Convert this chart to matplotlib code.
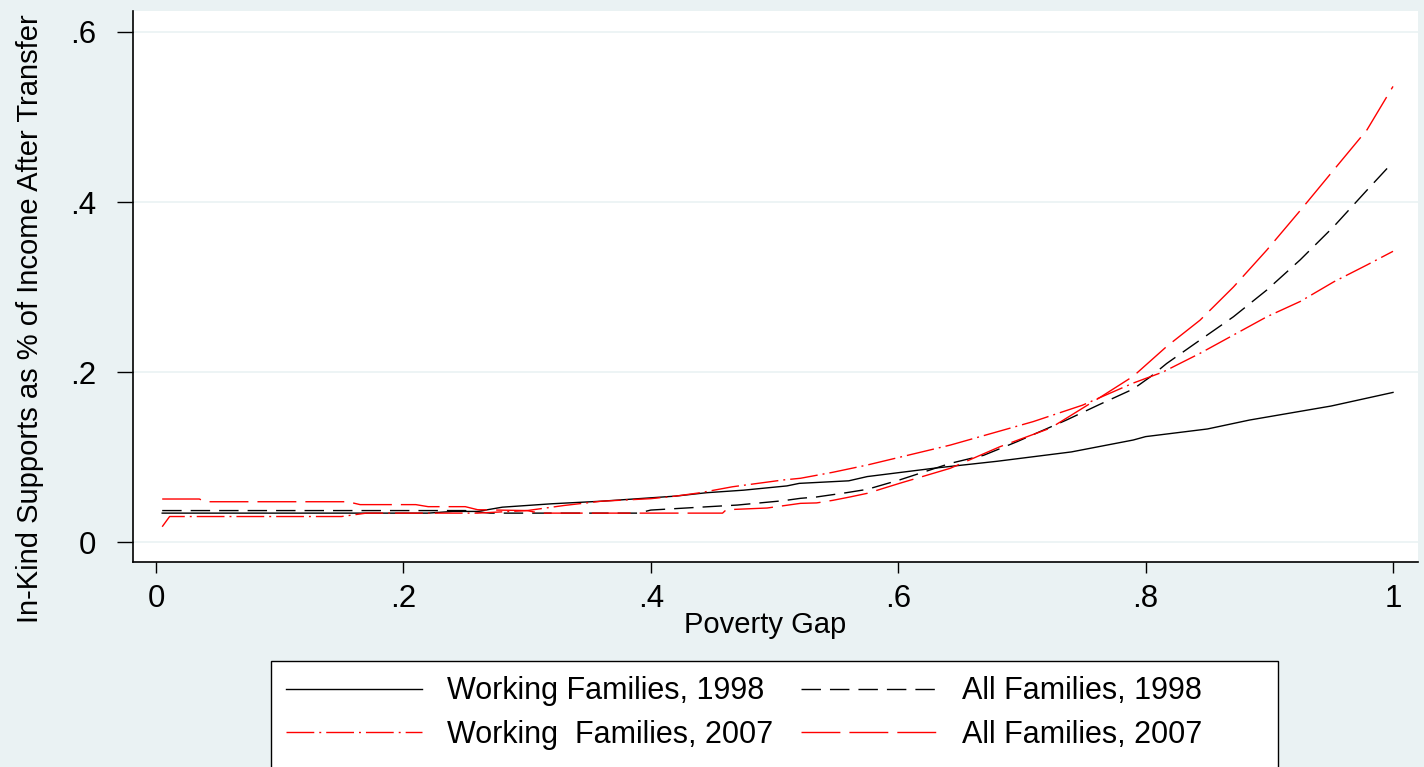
import matplotlib
matplotlib.use("Agg")
import matplotlib.pyplot as plt
from matplotlib.patches import Rectangle

# ---------------------------------------------------------------------------
# Donnees
# ---------------------------------------------------------------------------
wf98_x = [0.005, 0.22, 0.24, 0.26, 0.28, 0.32, 0.36, 0.39, 0.42, 0.445, 0.475,
          0.51, 0.52, 0.56, 0.575, 0.63, 0.68, 0.74, 0.79, 0.80, 0.85, 0.884,
          0.95, 1.0]
wf98_y = [0.034, 0.034, 0.036, 0.036, 0.041, 0.045, 0.048, 0.051, 0.054, 0.058,
          0.061, 0.066, 0.069, 0.072, 0.077, 0.087, 0.095, 0.106, 0.120, 0.124,
          0.133, 0.1435, 0.160, 0.176]

af98_x = [0.005, 0.25, 0.27, 0.39, 0.40, 0.44, 0.47, 0.507, 0.521, 0.534, 0.558,
          0.575, 0.601, 0.642, 0.669, 0.696, 0.736, 0.763, 0.79, 0.804, 0.817,
          0.844, 0.871, 0.898, 0.925, 0.952, 0.979, 1.0]
af98_y = [0.037, 0.037, 0.034, 0.034, 0.0376, 0.041, 0.0435, 0.0486, 0.0514,
          0.053, 0.058, 0.062, 0.073, 0.0925, 0.102, 0.118, 0.1435, 0.162, 0.180,
          0.1945, 0.21, 0.2376, 0.265, 0.2965, 0.332, 0.371, 0.414, 0.447]

wf07_x = [0.005, 0.011, 0.15, 0.17, 0.26, 0.30, 0.33, 0.36, 0.40, 0.42, 0.44,
          0.466, 0.507, 0.521, 0.547, 0.575, 0.642, 0.709, 0.749, 0.79, 0.814,
          0.844, 0.871, 0.898, 0.925, 0.952, 0.979, 1.0]
wf07_y = [0.018, 0.030, 0.030, 0.034, 0.034, 0.037, 0.043, 0.048, 0.051, 0.054,
          0.058, 0.065, 0.073, 0.075, 0.082, 0.0906, 0.114, 0.1416, 0.161, 0.187,
          0.200, 0.222, 0.2435, 0.265, 0.283, 0.306, 0.326, 0.342]

af07_x = [0.005, 0.035, 0.04, 0.155, 0.165, 0.21, 0.22, 0.25, 0.26, 0.30, 0.31,
          0.458, 0.461, 0.494, 0.521, 0.534, 0.547, 0.561, 0.575, 0.601, 0.642,
          0.682, 0.723, 0.763, 0.79, 0.817, 0.844, 0.871, 0.898, 0.925, 0.952,
          0.979, 1.0]
af07_y = [0.0506, 0.0506, 0.0474, 0.0474, 0.044, 0.044, 0.0416, 0.0416, 0.038,
          0.037, 0.034, 0.034, 0.038, 0.040, 0.0455, 0.046, 0.049, 0.053, 0.0573,
          0.069, 0.0867, 0.112, 0.134, 0.170, 0.195, 0.23, 0.261, 0.30, 0.3435,
          0.39, 0.4376, 0.485, 0.536]

x_ticks = [0, 0.2, 0.4, 0.6, 0.8, 1.0]
x_labels = ["0", ".2", ".4", ".6", ".8", "1"]
y_ticks = [0, 0.2, 0.4, 0.6]
y_labels = ["0", ".2", ".4", ".6"]

labels = ["Working Families, 1998", "All Families, 1998",
          "Working  Families, 2007", "All Families, 2007"]

# ---------------------------------------------------------------------------
plt.rcParams["font.family"] = ["Liberation Sans", "DejaVu Sans"]
plt.rcParams["lines.scale_dashes"] = False

W, H = 1424, 767
bg = "#eaf2f3"
fig = plt.figure(figsize=(W / 100, H / 100), dpi=100, facecolor=bg)
ax = fig.add_axes([133 / W, 1 - 562 / H, (1418 - 133) / W, (562 - 11) / H])
ax.set_facecolor("white")

lw = 1.0
l1, = ax.plot(wf98_x, wf98_y, color="black", lw=lw, label=labels[0])
l2, = ax.plot(af98_x, af98_y, color="black", lw=lw, dashes=(14, 6.5), label=labels[1])
l3, = ax.plot(wf07_x, wf07_y, color="red", lw=lw, dashes=(20, 3.6, 1.4, 3.6), label=labels[2])
l4, = ax.plot(af07_x, af07_y, color="red", lw=lw, dashes=(28, 6.5), label=labels[3])

ax.set_xlim(-0.0186, 1.0202)
ax.set_ylim(-0.0235, 0.6247)
ax.set_xticks(x_ticks)
ax.set_xticklabels(x_labels)
ax.set_yticks(y_ticks)
ax.set_yticklabels(y_labels)
ax.tick_params(axis="both", labelsize=22.5, colors="black", width=1)
ax.tick_params(axis="y", length=11.5, pad=15)
ax.tick_params(axis="x", length=8, pad=8)
ax.yaxis.grid(True, color=bg, lw=1.2)
ax.set_axisbelow(True)
for s in ["top", "right"]:
    ax.spines[s].set_visible(False)
for s in ["left", "bottom"]:
    ax.spines[s].set_linewidth(1.2)

fig.text(30 / W, 1 - 319 / H, "In-Kind Supports as % of Income After Transfer",
         rotation=90, ha="center", va="center", fontsize=21)
fig.text(765 / W, 1 - 625 / H, "Poverty Gap", ha="center", va="center", fontsize=21)

# Cadre de la legende (depasse le bas de l'image)
fig.patches.append(Rectangle((271 / W, -0.1), (1278 - 271) / W, (1 - 661 / H) + 0.1,
                             transform=fig.transFigure, facecolor="white",
                             edgecolor="black", lw=1.0, zorder=0))

# ordre colonne par colonne pour obtenir les lignes de la reference
fig.legend([l1, l3, l2, l4], [labels[0], labels[2], labels[1], labels[3]],
           ncol=2, frameon=False, fontsize=22,
           loc="upper left", bbox_to_anchor=(271 / W, 1 - 661 / H),
           bbox_transform=fig.transFigure, borderaxespad=0, borderpad=0.5,
           handlelength=4.45, handletextpad=0.82, columnspacing=0.9,
           labelspacing=0.45)

fig.savefig("out.png", dpi=100, facecolor=bg)
